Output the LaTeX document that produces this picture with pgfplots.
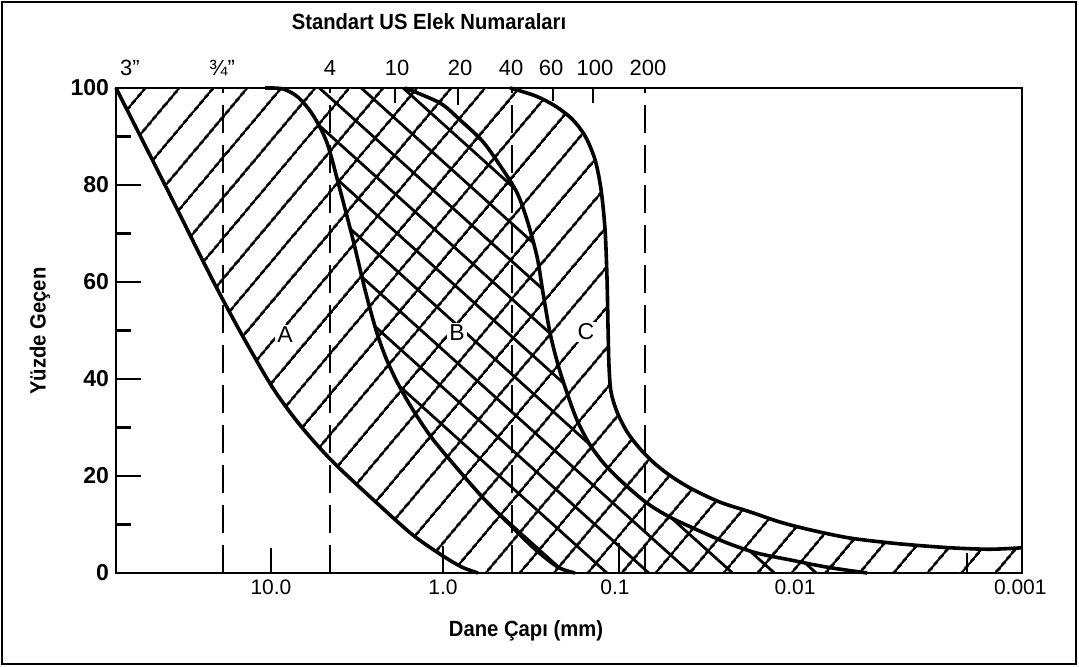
\documentclass[border=0pt]{standalone}
\usepackage{fontspec}
\setmainfont{Liberation Sans}
\newfontfamily\condfont{Liberation Sans}[FakeStretch=0.92]
\usepackage{pgfplots}
\pgfplotsset{compat=1.18}
\usepackage{pgfplotstable}
\usetikzlibrary{patterns.meta}

\pgfplotstableread{
d y
79.62 100
54.03 88.2
36.15 75.9
24.19 63.5
19.01 56.3
14.17 48.0
9.736 38.1
6.783 30.5
4.419 23.1
2.419 14.4
1.494 7.8
1.000 3.5
0.7754 1.2
0.6258 0
}\curveI
\pgfplotstableread{
d y
10.84 100
8.517 99.8
6.966 98.1
5.699 94.4
4.726 88.7
3.970 79.0
3.336 68.7
2.841 58.4
2.452 50.1
2.145 44.3
1.826 39.0
1.494 33.6
1.159 27.8
0.8291 21.6
0.5853 15.5
0.4077 9.9
0.2918 4.9
0.2145 1.2
0.1709 0
}\curveII
\pgfplotstableread{
d y
1.663 100
1.041 96.9
0.7963 93.4
0.5853 88.9
0.4478 83.1
0.3713 78.4
0.3248 72.8
0.2841 65.2
0.2622 57.7
0.2387 49.5
0.2145 42.9
0.1901 37.1
0.1663 31.5
0.1397 26.4
0.1143 22.3
0.08985 18.6
0.06516 14.4
0.04789 11.5
0.03337 8.9
0.02233 6.2
0.01494 4.1
0.009607 2.7
0.005853 1.2
0.003426 0
}\curveIII
\pgfplotstableread{
d y
0.4077 100
0.2918 98.4
0.2233 96.3
0.1778 93.6
0.1494 90.1
0.1307 85.2
0.1206 79.0
0.1143 70.7
0.1113 60.4
0.1098 50.1
0.1084 42.5
0.1055 37.3
0.09736 33.2
0.08515 29.1
0.07156 25.6
0.05853 22.5
0.04662 19.8
0.03567 17.3
0.02452 14.6
0.01641 12.6
0.01098 10.5
0.007349 8.9
0.004301 7.2
0.002203 6.0
0.001128 5.2
0.00066 4.9
0.000431 5.2
}\curveIV

\begin{document}
\begin{tikzpicture}[x=1pt,y=1pt]
\useasboundingbox (-58,-47) rectangle (481.5,286.5);
\draw[line width=1pt] (-57,-45.5) rectangle (480,285.5);
\begin{axis}[
  at={(0,0)}, anchor=south west,
  scale only axis, width=453pt, height=242.5pt,
  xmode=log, x dir=reverse,
  xmin=0.000431, xmax=79.62, ymin=0, ymax=100,
  clip=false,
  axis line style={line width=1.4pt},
  tick pos=left, tick align=inside,
  ytick={0,20,...,100}, minor ytick={10,30,...,90},
  major tick length=12.5pt, minor tick length=7.5pt,
  every tick/.style={black, line width=1.4pt},
  xtick={10,1,0.1,0.00898,0.000441},
  xticklabels={10.0,1.0,0.1,0.01,0.001},
  xtick style={draw=none}, xminorticks=false,
  /pgf/number format/assume math mode=true,
  yticklabel style={font=\bfseries\fontsize{11.5}{14}\selectfont},
  xticklabel style={font=\fontsize{10.5}{12}\selectfont},
]
% hatched regions
\addplot[draw=none, pattern={Lines[angle=50,distance=13pt,line width=1.4pt]}] coordinates {
(79.62,100) (54.03,88.2) (36.15,75.9) (24.19,63.5) (19.01,56.3) (14.17,48.0) (9.736,38.1) (6.783,30.5) (4.419,23.1) (2.419,14.4) (1.494,7.8) (1.000,3.5) (0.7754,1.2) (0.6258,0)
(0.000431,0) (0.000431,5.2) (0.00066,4.9) (0.001128,5.2) (0.002203,6.0) (0.004301,7.2) (0.007349,8.9) (0.01098,10.5) (0.01641,12.6) (0.02452,14.6) (0.03567,17.3) (0.04662,19.8) (0.05853,22.5) (0.07156,25.6) (0.08515,29.1) (0.09736,33.2) (0.1055,37.3) (0.1084,42.5) (0.1098,50.1) (0.1113,60.4) (0.1143,70.7) (0.1206,79.0) (0.1307,85.2) (0.1494,90.1) (0.1778,93.6) (0.2233,96.3) (0.2918,98.4) (0.4077,100)} -- cycle;
\addplot[draw=none, pattern={Lines[angle=-42,distance=14pt,line width=1.4pt]}] coordinates {
(10.84,100) (8.517,99.8) (6.966,98.1) (5.699,94.4) (4.726,88.7) (3.970,79.0) (3.336,68.7) (2.841,58.4) (2.452,50.1) (2.145,44.3) (1.826,39.0) (1.494,33.6) (1.159,27.8) (0.8291,21.6) (0.5853,15.5) (0.4077,9.9) (0.2918,4.9) (0.2145,1.2) (0.1709,0)
(0.003426,0) (0.005853,1.2) (0.009607,2.7) (0.01494,4.1) (0.02233,6.2) (0.03337,8.9) (0.04789,11.5) (0.06516,14.4) (0.08985,18.6) (0.1143,22.3) (0.1397,26.4) (0.1663,31.5) (0.1901,37.1) (0.2145,42.9) (0.2387,49.5) (0.2622,57.7) (0.2841,65.2) (0.3248,72.8) (0.3713,78.4) (0.4478,83.1) (0.5853,88.9) (0.7963,93.4) (1.041,96.9) (1.663,100)} -- cycle;
% sieve dashed lines
\addplot[black, line width=1pt, dash pattern=on 14pt off 6pt] coordinates {(19.01,0) (19.01,100)};
\addplot[black, line width=1pt, dash pattern=on 14pt off 6pt] coordinates {(4.54,0) (4.54,100)};
\addplot[black, line width=1pt, dash pattern=on 14pt off 6pt] coordinates {(0.397,0) (0.397,100)};
\addplot[black, line width=1pt, dash pattern=on 14pt off 6pt] coordinates {(0.067,0) (0.067,100)};
% short sieve ticks at top
\addplot[black, line width=0.9pt] coordinates {(1.901,100) (1.901,96.9)};
\addplot[black, line width=0.9pt] coordinates {(0.818,100) (0.818,96.5)};
\addplot[black, line width=0.9pt] coordinates {(0.2293,100) (0.2293,97.4)};
\addplot[black, line width=0.9pt] coordinates {(0.1343,100) (0.1343,96.9)};
% short ticks at bottom
\addplot[black, line width=0.9pt] coordinates {(10,0) (10,5.2)};
\addplot[black, line width=0.9pt] coordinates {(1,0) (1,5.6)};
\addplot[black, line width=0.9pt] coordinates {(0.0948,0) (0.0948,6.2)};
\addplot[black, line width=0.9pt] coordinates {(0.000897,0) (0.000897,4.1)};
% curves
\addplot[black, line width=1.8pt, smooth] table[x=d,y=y] {\curveI};
\addplot[black, line width=1.8pt, smooth] table[x=d,y=y] {\curveII};
\addplot[black, line width=1.8pt, smooth] table[x=d,y=y] {\curveIII};
\addplot[black, line width=1.8pt, smooth] table[x=d,y=y] {\curveIV};
% zone letters
\node[fill=white, inner sep=1pt, font=\fontsize{11.5}{13}\selectfont] at (axis cs:8.29,49.1) {A};
\node[fill=white, inner sep=1pt, font=\fontsize{11.5}{13}\selectfont] at (axis cs:0.829,49.5) {B};
\node[fill=white, inner sep=1pt, font=\fontsize{11.5}{13}\selectfont] at (axis cs:0.1475,49.7) {C};
\end{axis}
% sieve numbers along top
\begin{scope}[every node/.style={anchor=base, inner sep=0pt, font=\fontsize{11}{13}\selectfont}]
\node at (7,248.5) {3”};
\node at (53,248.5) {¾”};
\node at (107,248.5) {4};
\node at (140.5,248.5) {10};
\node at (172,248.5) {20};
\node at (197.5,248.5) {40};
\node at (217.5,248.5) {60};
\node at (239.5,248.5) {100};
\node at (266,248.5) {200};
\end{scope}
\node[font=\condfont\bfseries\fontsize{11}{13}\selectfont] at (156.5,275.5) {Standart US Elek Numaraları};
\node[font=\condfont\bfseries\fontsize{11}{13}\selectfont] at (205,-29) {Dane Çapı (mm)};
\node[font=\condfont\bfseries\fontsize{11}{13}\selectfont, rotate=90] at (-38,121) {Yüzde Geçen};
\end{tikzpicture}
\end{document}
